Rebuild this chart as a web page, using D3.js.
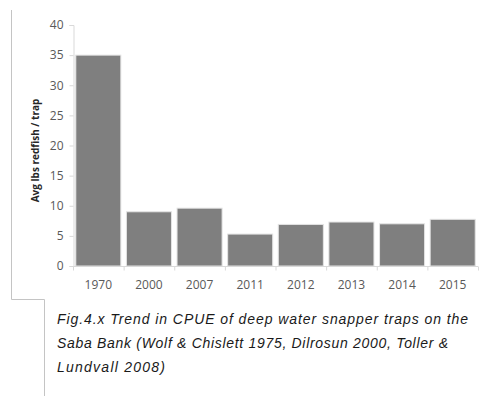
<!DOCTYPE html>
<html lang="en">
<head>
<meta charset="UTF-8">
<title>CPUE deep water snapper traps</title>
<style>
    * { margin: 0; padding: 0; }
    body { background: #fff; }
</style>
</head>
<body>
<div id="chart"></div>
<script src="https://cdn.jsdelivr.net/npm/d3@7"></script>
<script>
    const years = ['1970', '2000', '2007', '2011', '2012', '2013', '2014', '2015']
    const values = [35, 9.0, 9.6, 5.3, 6.9, 7.3, 7.0, 7.75]
    const yTicks = [0, 5, 10, 15, 20, 25, 30, 35, 40]
    const yTitle = 'Avg lbs redfish / trap'
    const captionLines = [
        'Fig.4.x Trend in CPUE of deep water snapper traps on the',
        'Saba Bank (Wolf & Chislett 1975, Dilrosun 2000, Toller &',
        'Lundvall 2008)'
    ]

    const width = 480
    const height = 396

    const svg = d3.select('#chart')
        .append('svg')
        .attr('width', width)
        .attr('height', height)

    // frame lines of the page crop
    const frame = svg.append('path')
        .attr('d', 'M11.5,10 V299.5 H44.5 V396')
        .attr('fill', 'none')
        .attr('stroke', '#c4c4c4')
        .attr('stroke-width', 1)

    const x = d3.scaleBand()
        .domain(years)
        .range([73, 478])
        .paddingInner(0.11)
        .paddingOuter(0.055)

    const y = d3.scaleLinear()
        .domain([0, 40])
        .range([266, 25])

    const axisColor = '#d9d9d9'

    // y axis
    const yAxis = svg.append('g')
        .attr('transform', 'translate(73.5, 0)')
        .call(d3.axisLeft(y).tickValues(yTicks).tickSize(4).tickPadding(6))
    yAxis.select('.domain').attr('stroke', axisColor)
    yAxis.selectAll('.tick line').attr('stroke', axisColor)
    yAxis.selectAll('.tick text')
        .attr('fill', '#595959')
        .style('font-family', 'Open Sans, sans-serif')
        .style('font-size', '12px')

    // bars
    svg.append('g')
        .selectAll('rect')
        .data(values)
        .join('rect')
        .attr('x', (d, i) => x(years[i]))
        .attr('y', d => y(d))
        .attr('width', x.bandwidth())
        .attr('height', d => y(0) - y(d))
        .attr('fill', '#7f7f7f')
        .attr('stroke', '#e4e4e4')
        .attr('stroke-width', 1)

    // x axis
    const xAxis = svg.append('g')
        .attr('transform', `translate(0, ${y(0) + 0.5})`)
    xAxis.append('line')
        .attr('x1', x.range()[0])
        .attr('x2', x.range()[1])
        .attr('stroke', axisColor)
    const step = x.step()
    const bounds = d3.range(years.length + 1).map(i => x.range()[0] + i * step)
    xAxis.selectAll('line.tick')
        .data(bounds)
        .join('line')
        .attr('class', 'tick')
        .attr('x1', d => d + 0.5)
        .attr('x2', d => d + 0.5)
        .attr('y1', 0)
        .attr('y2', 4)
        .attr('stroke', axisColor)
    xAxis.selectAll('text')
        .data(years)
        .join('text')
        .attr('x', d => x(d) + x.bandwidth() / 2)
        .attr('y', 22)
        .attr('text-anchor', 'middle')
        .attr('fill', '#595959')
        .style('font-family', 'Open Sans, sans-serif')
        .style('font-size', '12px')
        .text(d => d)

    // y axis title
    svg.append('text')
        .attr('transform', `translate(39, ${(y(0) + y(40)) / 2 + 5}) rotate(-90)`)
        .attr('text-anchor', 'middle')
        .attr('fill', '#262626')
        .style('font-family', 'Open Sans, sans-serif')
        .style('font-size', '10px')
        .style('font-weight', 700)
        .text(yTitle)

    // caption
    const captionEnds = [468, 448, 165]
    svg.append('g')
        .selectAll('text')
        .data(captionLines)
        .join('text')
        .attr('x', 57)
        .attr('y', (d, i) => 324 + i * 24)
        .attr('textLength', (d, i) => captionEnds[i] - 57)
        .attr('lengthAdjust', 'spacing')
        .attr('fill', '#1a1a1a')
        .style('font-family', 'Liberation Sans, sans-serif')
        .style('font-style', 'italic')
        .style('font-size', '14px')
        .text(d => d)
</script>
</body>
</html>
